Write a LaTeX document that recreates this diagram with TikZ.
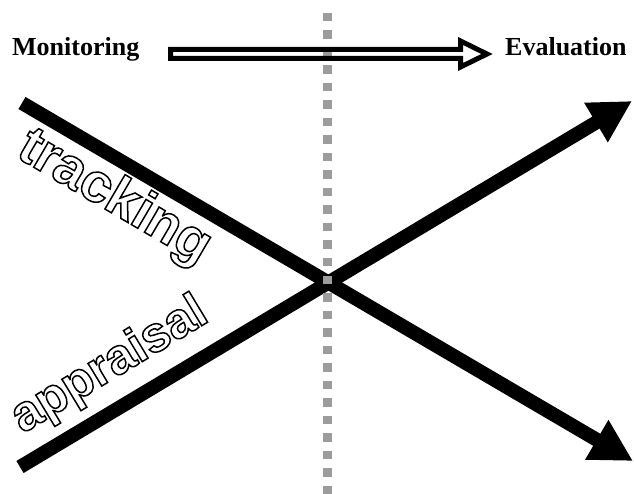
\documentclass[tikz,border=0pt]{standalone}
\usepackage{fontspec}
\setmainfont{Liberation Serif}
\newfontfamily\outfont{Liberation Sans}
\usetikzlibrary{arrows.meta}
\definecolor{dotgray}{RGB}{156,156,156}
\newcommand\outlinedtext[1]{\special{pdf:literal direct 2 Tr 1.5 w 1 g 0 G}#1\special{pdf:literal direct 0 Tr 0 g}}
\begin{document}
\begin{tikzpicture}[x=1pt,y=-1pt,
  bigarrow/.style={line width=14pt, -{Triangle[length=42pt,width=43pt]}},
  dotline/.style={dotgray, line width=8.5pt, dash pattern=on 8.5pt off 9pt},
  hollow/.style={line width=5pt, miter limit=10, line join=miter},
  lbl/.style={inner sep=0pt, font=\fontsize{26}{30}\selectfont\bfseries},
  outl/.style={inner sep=0pt, text=black}]
\useasboundingbox (0,0) rectangle (634,494);
% crossing arrows
\coordinate (t0) at (22,103);
\coordinate (t1) at (633,461);
\coordinate (a0) at (20,467);
\coordinate (a1) at (632,101);
\draw[bigarrow] (t0) -- (t1);
\draw[bigarrow] (a0) -- (a1);
% dotted divider
\coordinate (d0) at (327.5,13);
\coordinate (d1) at (327.5,494);
\draw[dotline] (d0) -- (d1);
% labels
\node[lbl, anchor=base west] (mon) at (12,56) {Monitoring};
\node[lbl, anchor=base west] (eva) at (505,56) {Evaluation};
% hollow arrow
\draw[hollow] (170.5,49.5) -- (460.5,49.5) -- (460.5,41) -- (487,54) -- (460.5,67) -- (460.5,58.5) -- (170.5,58.5) -- cycle;
% outlined texts
\node[outl, rotate=-30.4, font=\outfont\fontsize{55}{60}\selectfont\bfseries] (trk) at (114,198) {\outlinedtext{tracking}};
\node[outl, rotate=31.1, font=\outfont\fontsize{50}{55}\selectfont\bfseries] (apr) at (110,366) {\outlinedtext{appraisal}};
\end{tikzpicture}
\end{document}
